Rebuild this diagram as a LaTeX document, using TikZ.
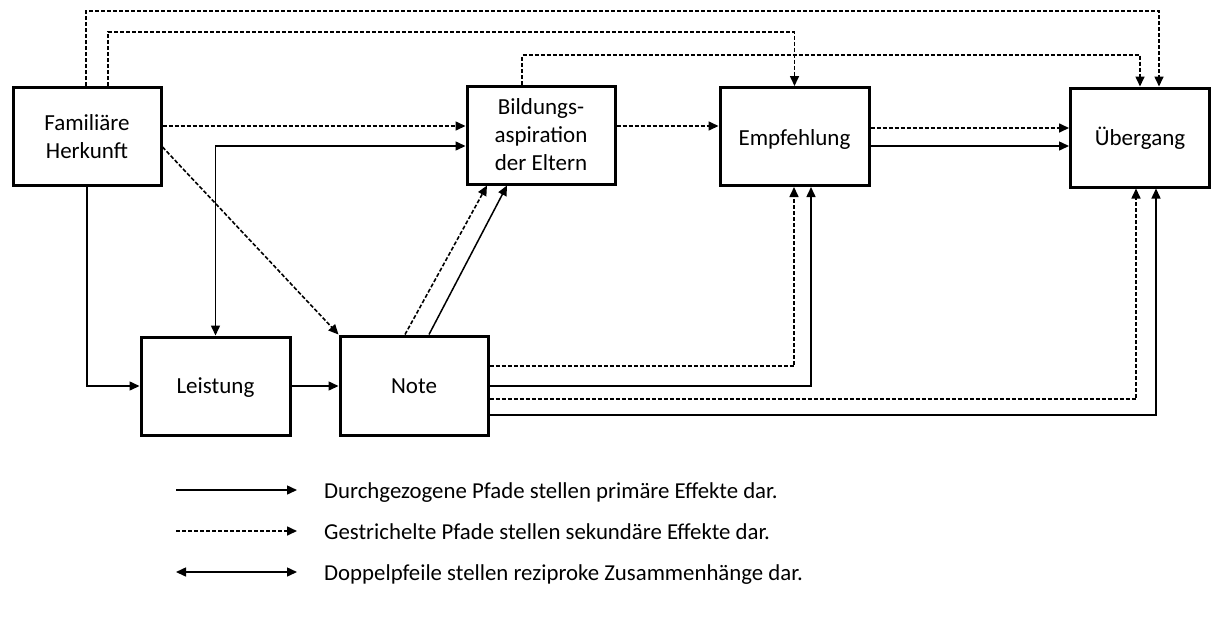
\documentclass[tikz,border=0pt]{standalone}
\usepackage{fontspec}
\setmainfont{Carlito}
\usetikzlibrary{arrows.meta}
\newcommand{\lowerlabel}[2]{\raisebox{-#1}[0pt][0pt]{#2}}
\begin{document}
\begin{tikzpicture}[x=1pt,y=-1pt,
  box/.style={draw, line width=3pt, inner sep=0pt, align=center,
    font=\fontsize{23}{28}\selectfont},
  con/.style={line width=1.5pt, -{Triangle[length=10pt,width=9pt]}},
  dsh/.style={con, line width=1.6pt, dash pattern=on 4pt off 2pt},
  both/.style={line width=1.5pt, {Triangle[length=10pt,width=9pt]}-{Triangle[length=10pt,width=9pt]}},
  legtext/.style={anchor=base west, inner sep=0pt, font=\fontsize{22.8}{27}\selectfont}]
\useasboundingbox (0,0) rectangle (1216,630);

% boxes
\node[box, minimum width=148pt, minimum height=98pt] (fam) at (87,136.5) {Familiäre\\Herkunft};
\node[box, minimum width=148pt, minimum height=98pt] (bild) at (541,135) {Bildungs-\\aspiration\\der Eltern};
\node[box, minimum width=149pt, minimum height=98pt] (empf) at (794.5,136.5) {\lowerlabel{9pt}{Empfehlung}};
\node[box, minimum width=139pt, minimum height=99pt] (ueb) at (1140,137.5) {\lowerlabel{8pt}{Übergang}};
\node[box, minimum width=149pt, minimum height=98pt] (leist) at (215.5,386) {\lowerlabel{7pt}{Leistung}};
\node[box, minimum width=148pt, minimum height=99pt] (note) at (414,385.5) {\lowerlabel{7.5pt}{Note}};

% top dashed routes
\coordinate (f1) at ([xshift=-1pt]fam.north);
\coordinate (f2) at ([xshift=21pt]fam.north);
\coordinate (b1) at ([xshift=-19pt]bild.north);
\coordinate (e1) at (empf.north);
\coordinate (u1) at ([xshift=19pt]ueb.north);
\coordinate (u2) at ([xshift=0pt]ueb.north);
\draw[dsh] (f1) -- (f1 |- 0,11) -| (u1);
\draw[dsh] (f2) -- (f2 |- 0,32) -| (e1);
\draw[dsh] (b1) -- (b1 |- 0,55) -| (u2);

% horizontal upper row
\draw[dsh] (fam.east |- 0,126) -- (bild.west |- 0,126);
\draw[dsh] (bild.east |- 0,126) -- (empf.west |- 0,126);
\draw[dsh] (empf.east |- 0,128) -- (ueb.west |- 0,128);
\draw[con] (empf.east |- 0,146) -- (ueb.west |- 0,146);

% Leistung <-> Bildungsaspiration
\draw[both] (leist.north) |- (bild.west |- 0,146);

% Familiaere Herkunft -> Note (dashed diagonal)
\draw[dsh] (fam.east |- 0,147) -- (note.north west);

% Familiaere Herkunft -> Leistung
\draw[con] (fam.south) |- (leist.west);

% Leistung -> Note
\draw[con] (leist.east) -- (note.west |- leist.east);

% Note -> Bildungsaspiration
\draw[dsh] ([xshift=-9pt]note.north) -- ([xshift=-54pt]bild.south);
\draw[con] ([xshift=15pt]note.north) -- ([xshift=-34pt]bild.south);

% Note -> Empfehlung
\draw[dsh] (note.east |- 0,366) -| ([xshift=-0.5pt]empf.south);
\draw[con] (note.east |- 0,386) -| ([xshift=16.5pt]empf.south);

% Note -> Uebergang
\draw[dsh] (note.east |- 0,399) -| ([xshift=-4pt]ueb.south);
\draw[con] (note.east |- 0,415) -| ([xshift=16pt]ueb.south);

% legend
\coordinate (l1a) at (176,490); \coordinate (l1b) at (297,490);
\coordinate (l2a) at (176,531); \coordinate (l2b) at (297,531);
\coordinate (l3a) at (176,572); \coordinate (l3b) at (297,572);
\draw[con] (l1a) -- (l1b);
\draw[dsh] (l2a) -- (l2b);
\draw[both] (l3a) -- (l3b);
\node[legtext] (t1) at (324,498) {Durchgezogene Pfade stellen primäre Effekte dar.};
\node[legtext] (t2) at (324,539) {Gestrichelte Pfade stellen sekundäre Effekte dar.};
\node[legtext] (t3) at (324,580) {Doppelpfeile stellen reziproke Zusammenhänge dar.};
\end{tikzpicture}
\end{document}
